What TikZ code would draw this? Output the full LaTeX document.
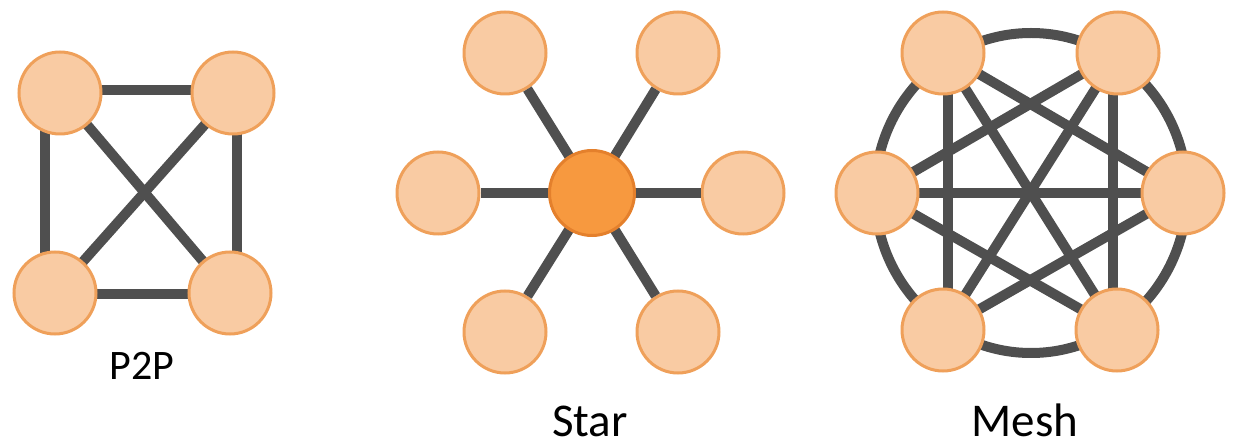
\documentclass[tikz,border=0pt]{standalone}
\usepackage{fontspec}
\setmainfont{Carlito}
\definecolor{nfill}{HTML}{F9CBA3}
\definecolor{nedge}{HTML}{EFA05A}
\definecolor{cfill}{HTML}{F7993F}
\definecolor{cedge}{HTML}{E4802C}
\definecolor{link}{HTML}{4F4F4F}
\tikzset{
  nd/.style={circle, fill=nfill, draw=nedge, line width=3pt, minimum size=82pt, inner sep=0pt},
  hub/.style={circle, fill=cfill, draw=cedge, line width=3pt, minimum size=85pt, inner sep=0pt},
  lnk/.style={draw=link, line width=10pt},
  lbl/.style={font=\fontsize{42}{48}\selectfont, text=black, inner sep=0pt},
  lblb/.style={font=\fontsize{47}{54}\selectfont, text=black, inner sep=0pt}
}
\begin{document}
\begin{tikzpicture}[x=1pt,y=-1pt]
\useasboundingbox (0,0) rectangle (1235,446);
% ---------- P2P ----------
\coordinate (pa) at (45,93);
\coordinate (pb) at (45,293);
\coordinate (pc) at (237,93);
\coordinate (pd) at (237,293);
\coordinate (pe) at (60,90);
\coordinate (pf) at (233,90);
\coordinate (pg) at (55,294);
\coordinate (ph) at (230,294);
\coordinate (pq1) at (60,93);
\coordinate (pq2) at (233,93);
\coordinate (pq3) at (55,293);
\coordinate (pq4) at (230,293);
\draw[lnk] (pa) -- (pb);
\draw[lnk] (pc) -- (pd);
\draw[lnk] (pe) -- (pf);
\draw[lnk] (pg) -- (ph);
\draw[lnk] (pq1) -- (pq4);
\draw[lnk] (pq2) -- (pq3);
\node[nd] (p1) at (pq1) {};
\node[nd] (p2) at (pq2) {};
\node[nd] (p3) at (pq3) {};
\node[nd] (p4) at (pq4) {};
\node[lbl, anchor=base] (t1) at (142,380) {P2P};
% ---------- Star ----------
\coordinate (scc) at (592,193);
\node[nd] (s1) at (505,53) {};
\node[nd] (s2) at (678,53) {};
\node[nd] (s3) at (438,193) {};
\node[nd] (s4) at (743,193) {};
\node[nd] (s5) at (505,332) {};
\node[nd] (s6) at (678,332) {};
\foreach \o in {s1,s2,s3,s4,s5,s6} \draw[lnk] (scc) -- (\o);
\node[hub] (sc) at (scc) {};
\node[lblb, anchor=base] (t2) at (590,436) {Star};
% ---------- Mesh ----------
\coordinate (mq1) at (943,53);
\coordinate (mq2) at (1118,53);
\coordinate (mq3) at (877,193);
\coordinate (mq4) at (1183,193);
\coordinate (mq5) at (943,330);
\coordinate (mq6) at (1117,330);
\coordinate (mv1) at (948,53);
\coordinate (mv2) at (948,330);
\coordinate (mv3) at (1113,53);
\coordinate (mv4) at (1113,330);
\coordinate (mc) at (1031,193);
\draw[lnk] (mc) ellipse (156pt and 160pt);
\draw[lnk] (mv1) -- (mv2);
\draw[lnk] (mv3) -- (mv4);
\draw[lnk] (mq3) -- (mq4);
\draw[lnk] (mq1) -- (mq4);
\draw[lnk] (mq1) -- (mq6);
\draw[lnk] (mq2) -- (mq3);
\draw[lnk] (mq2) -- (mq5);
\draw[lnk] (mq3) -- (mq6);
\draw[lnk] (mq4) -- (mq5);
\node[nd] (m1) at (mq1) {};
\node[nd] (m2) at (mq2) {};
\node[nd] (m3) at (mq3) {};
\node[nd] (m4) at (mq4) {};
\node[nd] (m5) at (mq5) {};
\node[nd] (m6) at (mq6) {};
\node[lblb, anchor=base] (t3) at (1025,436) {Mesh};
\end{tikzpicture}
\end{document}
